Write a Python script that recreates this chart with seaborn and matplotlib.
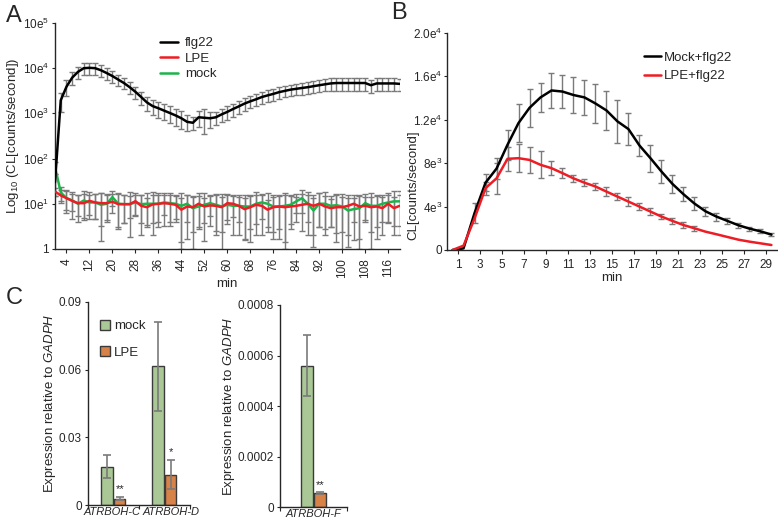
import numpy as np
import pandas as pd
import matplotlib
matplotlib.use("Agg")
import matplotlib.pyplot as plt
import seaborn as sns

# ── panel A: chemiluminescence over 120 min (log scale) ──────────────────────
time_a = np.arange(0, 121, 2)
flg22_mean = [30, 1950, 3900, 6200, 8300, 10000, 10200, 10000, 9000, 7800,
              6700, 5600, 4700, 3800, 3000, 2300, 1750, 1450, 1300, 1150,
              1020, 900, 780, 650, 620, 820, 800, 780, 820, 950,
              1080, 1250, 1430, 1650, 1850, 2050, 2300, 2500, 2700, 2950,
              3150, 3350, 3500, 3650, 3800, 4000, 4200, 4400, 4600, 4700,
              4700, 4700, 4700, 4700, 4700, 4200, 4600, 4600, 4600, 4600, 4500]
flg22_err = [15, 900, 1500, 2000, 2500, 3000, 3000, 3000, 2600, 2200,
             1900, 1600, 1300, 1100, 900, 750, 600, 550, 500, 450,
             420, 380, 330, 250, 200, 330, 450, 300, 280, 300,
             350, 400, 450, 500, 550, 600, 700, 750, 800, 850,
             900, 950, 1000, 1050, 1100, 1150, 1200, 1300, 1400, 1500,
             1500, 1500, 1500, 1500, 1500, 1400, 1400, 1400, 1400, 1400, 1400]
lpe_mean = [18.7, 15.3, 13.3, 11.6, 10.3, 10.3, 11.6, 10.7, 10.3, 10.3,
            11.1, 9.8, 9.8, 9.8, 11.4, 9.0, 8.4, 9.7, 10.0, 10.3,
            10.0, 9.5, 7.4, 8.7, 8.4, 10.0, 8.7, 9.2, 9.0, 8.4,
            10.3, 10.0, 9.0, 7.6, 8.4, 9.5, 9.0, 7.4, 8.4, 8.7,
            8.4, 8.7, 9.0, 9.5, 10.0, 9.0, 10.0, 8.7, 8.0, 8.4,
            8.4, 9.0, 10.0, 8.7, 9.0, 8.4, 8.7, 8.0, 10.0, 8.0, 9.0]
lpe_err = [4, 5, 6, 7, 5, 6, 7, 6, 7, 6,
           5, 7, 6, 5, 6, 7, 5, 6, 7, 7,
           6, 5, 6, 7, 6, 7, 5, 6, 7, 6,
           6, 5, 7, 6, 7, 6, 7, 5, 6, 7,
           7, 6, 5, 7, 6, 7, 7, 6, 5, 7,
           6, 7, 6, 7, 5, 6, 7, 6, 6, 6, 7]
mock_mean = [66, 17.8, 13.3, 11.8, 10.0, 11.8, 10.7, 10.7, 9.5, 10.0,
             14.0, 10.0, 9.8, 9.8, 10.7, 9.8, 10.0, 10.0, 10.0, 10.7,
             10.3, 10.0, 9.0, 10.0, 8.0, 8.7, 9.5, 10.3, 9.5, 8.7,
             9.5, 9.0, 9.0, 8.7, 8.7, 10.0, 10.7, 10.0, 8.7, 8.7,
             9.0, 9.5, 11.3, 13.3, 10.0, 7.1, 10.0, 10.0, 9.0, 9.3,
             8.7, 7.1, 7.6, 8.0, 10.3, 9.0, 9.0, 10.0, 10.7, 11.3, 11.3]
mock_err = [20, 6, 7, 5, 6, 7, 5, 6, 8, 6,
            5, 7, 6, 8, 5, 6, 7, 8, 6, 5,
            7, 6, 8, 6, 7, 6, 8, 5, 7, 8,
            6, 7, 5, 7, 6, 8, 6, 7, 7, 6,
            8, 6, 5, 7, 8, 6, 7, 8, 6, 7,
            8, 6, 6, 7, 6, 8, 6, 6, 7, 8, 8]

# ── panel B: first 30 min, linear scale ──────────────────────────────────────
time_b = np.arange(0.5, 30, 1)
mockflg_mean = [0, 150, 3400, 6200, 7500, 9700, 11700, 13100, 14060, 14700,
                14600, 14280, 14060, 13500, 12860, 11850, 11140, 9630, 8460, 7230,
                6090, 5140, 4280, 3570, 3080, 2680, 2280, 1970, 1720, 1420]
mockflg_err = [0, 0, 900, 800, 1000, 1400, 1770, 1770, 1300, 1600,
               1500, 1660, 1600, 1770, 1770, 2000, 1460, 1000, 1230, 1080,
               850, 660, 580, 430, 370, 260, 230, 185, 185, 120]
lpeflg_mean = [0, 400, 2900, 5700, 6600, 8400, 8460, 8300, 7850, 7540,
               7080, 6600, 6200, 5850, 5380, 4920, 4460, 4000, 3540, 3080,
               2680, 2300, 2000, 1690, 1450, 1200, 950, 770, 615, 460]
lpeflg_err = [0, 0, 0, 600, 1400, 1080, 1300, 1230, 1230, 620,
              460, 310, 340, 340, 380, 310, 380, 310, 310, 260,
              260, 260, 230, 0, 0, 0, 0, 0, 0, 0]

# ── panel C: qRT-PCR ─────────────────────────────────────────────────────────
genes_cd = ["ATRBOH-C", "ATRBOH-D"]
expr_mock_cd = [0.0171, 0.0615]
expr_mock_cd_err = [0.0051, 0.0196]
expr_lpe_cd = [0.0029, 0.0135]
expr_lpe_cd_err = [0.0008, 0.0065]
stars_cd = ["**", "*"]
genes_f = ["ATRBOH-F"]
expr_mock_f = [0.00056]
expr_mock_f_err = [0.00012]
expr_lpe_f = [0.0000562]
expr_lpe_f_err = [0.000004]
stars_f = ["**"]

BLACK, RED, GREEN = "#000000", "#ee1c24", "#1db34a"
BAR_GREEN, BAR_ORANGE = "#a8d08d", "#ed7d31"
ERR_GREY = "#7a7a7a"

sns.set_style("ticks")
plt.rcParams["font.family"] = ["Liberation Sans", "DejaVu Sans"]
plt.rcParams["mathtext.fontset"] = "custom"
plt.rcParams["mathtext.rm"] = "Liberation Sans"
plt.rcParams["mathtext.it"] = "Liberation Sans:italic"
plt.rcParams["axes.linewidth"] = 1.0
plt.rcParams["xtick.labelsize"] = 8.5
plt.rcParams["ytick.labelsize"] = 8.5
plt.rcParams["xtick.major.size"] = 3
plt.rcParams["ytick.major.size"] = 2.5
plt.rcParams["ytick.major.pad"] = 2

fig = plt.figure(figsize=(7.78, 5.23), dpi=100)
ax_a = fig.add_axes([0.0707, 0.524, 0.443, 0.432])
ax_b = fig.add_axes([0.5746, 0.522, 0.424, 0.415])
ax_c1 = fig.add_axes([0.113, 0.034, 0.131, 0.389])
ax_c2 = fig.add_axes([0.36, 0.030, 0.086, 0.387])

# — A —
df_a = pd.DataFrame({
    "min": np.concatenate([time_a] * 3),
    "CL": np.concatenate([flg22_mean, lpe_mean, mock_mean]),
    "group": ["flg22"] * len(time_a) + ["LPE"] * len(time_a) + ["mock"] * len(time_a),
})
for mean, err in [(flg22_mean, flg22_err), (mock_mean, mock_err), (lpe_mean, lpe_err)]:
    ax_a.errorbar(time_a, mean, yerr=err, fmt="none", ecolor=ERR_GREY,
                  elinewidth=1, capsize=2, capthick=1, zorder=1)
sns.lineplot(data=df_a, x="min", y="CL", hue="group", ax=ax_a,
             hue_order=["flg22", "LPE", "mock"],
             palette={"flg22": BLACK, "LPE": RED, "mock": GREEN},
             linewidth=1.8, zorder=3)
# mock sits under LPE like the original
for line in ax_a.get_lines():
    if line.get_color() == GREEN:
        line.set_zorder(2)
ax_a.set_yscale("log")
ax_a.set_ylim(1, 1e5)
ax_a.set_xlim(0, 120)
ax_a.set_yticks([1, 1e1, 1e2, 1e3, 1e4, 1e5])
ax_a.set_yticklabels(["1", r"10e$^{1}$", r"10e$^{2}$", r"10e$^{3}$", r"10e$^{4}$", r"10e$^{5}$"])
ax_a.yaxis.set_minor_locator(matplotlib.ticker.NullLocator())
ax_a.set_xticks(np.arange(4, 120, 8))
ax_a.tick_params(axis="x", rotation=90)
ax_a.set_xlabel("min", fontsize=9.5, labelpad=0)
ax_a.set_ylabel(r"Log$_{10}$ (CL[counts/second])", fontsize=9.5)
ax_a.yaxis.set_label_coords(-0.098, 0.5)
ax_a.legend(frameon=False, loc="upper left", bbox_to_anchor=(0.27, 0.99),
            fontsize=9.5, handlelength=1.4, handletextpad=0.5, labelspacing=0.25, title=None)
sns.despine(ax=ax_a)

# — B —
df_b = pd.DataFrame({
    "min": np.concatenate([time_b] * 2),
    "CL": np.concatenate([mockflg_mean, lpeflg_mean]),
    "group": ["Mock+flg22"] * len(time_b) + ["LPE+flg22"] * len(time_b),
})
for mean, err in [(mockflg_mean, mockflg_err), (lpeflg_mean, lpeflg_err)]:
    e = np.array(err, dtype=float)
    keep = e > 0
    ax_b.errorbar(time_b[keep], np.array(mean)[keep], yerr=e[keep], fmt="none",
                  ecolor=ERR_GREY, elinewidth=1, capsize=2.5, capthick=1, zorder=1)
sns.lineplot(data=df_b, x="min", y="CL", hue="group", ax=ax_b,
             palette={"Mock+flg22": BLACK, "LPE+flg22": RED},
             linewidth=1.8, zorder=3)
ax_b.set_xlim(0, 30)
ax_b.set_ylim(0, 20000)
ax_b.set_xticks(np.arange(1, 30, 2))
ax_b.set_yticks([0, 4000, 8000, 12000, 16000, 20000])
ax_b.set_yticklabels(["0", r"4e$^{3}$", r"8e$^{3}$", r"1.2e$^{4}$", r"1.6e$^{4}$", r"2.0e$^{4}$"])
ax_b.tick_params(axis="y", length=2, pad=1.5)
ax_b.set_xlabel("min", fontsize=9.5, labelpad=1)
ax_b.set_ylabel("CL[counts/second]", fontsize=9.5)
ax_b.yaxis.set_label_coords(-0.083, 0.3)
ax_b.legend(frameon=False, loc="upper left", bbox_to_anchor=(0.56, 0.97),
            fontsize=9.5, handlelength=1.3, handletextpad=0.2, labelspacing=0.5)
sns.despine(ax=ax_b)


# — C —
def expression_bars(ax, genes, mock, mock_err, lpe, lpe_err, stars, width, legend, label_pos):
    df = pd.DataFrame({
        "gene": genes * 2,
        "expr": list(mock) + list(lpe),
        "treat": ["mock"] * len(genes) + ["LPE"] * len(genes),
    })
    sns.barplot(data=df, x="gene", y="expr", hue="treat", ax=ax,
                palette={"mock": BAR_GREEN, "LPE": BAR_ORANGE},
                width=width, gap=0.1, errorbar=None,
                edgecolor="#3a3a3a", linewidth=1.0, legend=legend)
    bars = ax.patches[:2 * len(genes)]
    xs = [b.get_x() + b.get_width() / 2 for b in bars]
    ax.errorbar(xs, list(mock) + list(lpe), yerr=list(mock_err) + list(lpe_err),
                fmt="none", ecolor=ERR_GREY, elinewidth=1.2, capsize=3, capthick=1.2)
    top = ax.get_ylim()[1]
    for i, s in enumerate(stars):
        x = xs[len(genes) + i]
        ax.text(x, lpe[i] + lpe_err[i] + 0.012 * top, s, ha="center", va="bottom", fontsize=8)
    n = len(genes)
    ax.set_xlim(-0.5, n - 0.5)
    ax.set_xticks(np.arange(-0.5, n, 1.0))
    ax.set_xticklabels([])
    # gene names sit between the boundary ticks
    ax.set_xticks(label_pos, minor=True)
    ax.set_xticklabels(genes, minor=True, style="italic", fontsize=8)
    ax.tick_params(axis="x", which="minor", length=0, pad=1)
    ax.set_xlabel("")
    ax.set_ylabel(r"Expression relative to $\it{GADPH}$", fontsize=9.5)
    sns.despine(ax=ax)


ax_c1.set_ylim(0, 0.09)
expression_bars(ax_c1, genes_cd, expr_mock_cd, expr_mock_cd_err,
                expr_lpe_cd, expr_lpe_cd_err, stars_cd, 0.5, True, [-0.02, 1.14])
ax_c1.set_yticks([0, 0.03, 0.06, 0.09])
ax_c1.set_yticklabels(["0", "0.03", "0.06", "0.09"])
ax_c1.yaxis.set_label_coords(-0.29, 0.5)
ax_c1.legend(frameon=False, loc="upper left", bbox_to_anchor=(0.0, 0.97),
             fontsize=9.5, handlelength=0.8, handleheight=0.8, handletextpad=0.3,
             labelspacing=1.05, title=None)

ax_c2.set_ylim(0, 0.0008)
expression_bars(ax_c2, genes_f, expr_mock_f, expr_mock_f_err,
                expr_lpe_f, expr_lpe_f_err, stars_f, 0.4, False, [0.0])
ax_c2.set_yticks([0, 0.0002, 0.0004, 0.0006, 0.0008])
ax_c2.set_yticklabels(["0", "0.0002", "0.0004", "0.0006", "0.0008"])
ax_c2.yaxis.set_label_coords(-0.64, 0.5)

# panel letters
fig.text(0.008, 0.97, "A", fontsize=17, va="center")
fig.text(0.503, 0.975, "B", fontsize=17, va="center")
fig.text(0.008, 0.43, "C", fontsize=17, va="center")

fig.savefig("out.png", dpi=100)
